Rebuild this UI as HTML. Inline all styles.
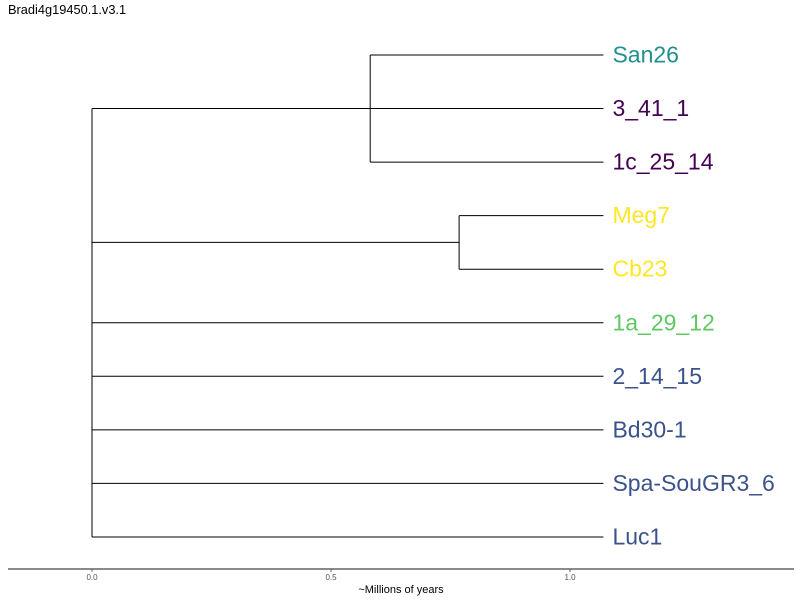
<!DOCTYPE html>
<html><head><meta charset="utf-8"><style>
html,body{margin:0;padding:0;background:#fff;}
svg{display:block;font-family:"Liberation Sans",sans-serif;}
</style></head><body>
<svg id="chart" width="800" height="600">
<text x="8" y="14" font-size="12.8" fill="#000">Bradi4g19450.1.v3.1</text>
<g id="tree"></g>
<line x1="8" y1="569" x2="794" y2="569" stroke="#444" stroke-width="1.2"/>
<g id="ticks"></g>
<text x="401" y="593" font-size="11" text-anchor="middle" fill="#000">~Millions of years</text>
</svg>
<script>
const leafNames = ["San26","3_41_1","1c_25_14","Meg7","Cb23","1a_29_12","2_14_15","Bd30-1","Spa-SouGR3_6","Luc1"];
const leafColors = ["#21908d","#440154","#440154","#fde725","#fde725","#5ec962","#3b528b","#3b528b","#3b528b","#3b528b"];
const tipDepth = 1.07;
const cladeMembers = [[0,1,2],[3,4]];
const cladeDepths = [0.582,0.768];
const tickValues = [0,0.5,1.0];
const tickLabels = ["0.0","0.5","1.0"];

const NS="http://www.w3.org/2000/svg";
const xs = v => 92 + v*478;
const ys = i => 55 + i*53.55;
const tree=document.getElementById('tree');
function ln(x1,y1,x2,y2,name){
  const l=document.createElementNS(NS,'line');
  l.setAttribute('x1',x1);l.setAttribute('y1',y1);l.setAttribute('x2',x2);l.setAttribute('y2',y2);
  l.setAttribute('stroke','#000');l.setAttribute('stroke-width','1');
  
  
  tree.appendChild(l);
}
const attachY=[];
const inClade={};
cladeMembers.forEach((m,c)=>m.forEach(i=>inClade[i]=c));
const done={};
leafNames.forEach((n,i)=>{
  if(inClade[i]!==undefined){
    const c=inClade[i];
    const m=cladeMembers[c];
    ln(xs(cladeDepths[c]),ys(i),xs(tipDepth),ys(i),'branch-'+n);
    if(!done[c]){
      done[c]=1;
      const y1=ys(m[0]),y2=ys(m[m.length-1]),ym=(y1+y2)/2;
      ln(xs(cladeDepths[c]),y1,xs(cladeDepths[c]),y2,'clade-node-'+c);
      ln(xs(0),ym,xs(cladeDepths[c]),ym,'clade-stem-'+c);
      attachY.push(ym);
    }
  } else {
    ln(xs(0),ys(i),xs(tipDepth),ys(i),'branch-'+n);
    attachY.push(ys(i));
  }
  const t=document.createElementNS(NS,'text');
  t.setAttribute('x',xs(tipDepth)+9);t.setAttribute('y',ys(i)+7.5);
  t.setAttribute('font-size','23');t.setAttribute('fill',leafColors[i]);
  t.textContent=n;
  
  
  tree.appendChild(t);
});
ln(xs(0),Math.min(...attachY),xs(0),Math.max(...attachY),'root-node');
const tg=document.getElementById('ticks');
tickValues.forEach((v,i)=>{
  const l=document.createElementNS(NS,'line');
  l.setAttribute('x1',xs(v));l.setAttribute('x2',xs(v));l.setAttribute('y1',569);l.setAttribute('y2',572);
  l.setAttribute('stroke','#666');
  
  
  tg.appendChild(l);
  const t=document.createElementNS(NS,'text');
  t.setAttribute('x',xs(v));t.setAttribute('y',580);t.setAttribute('font-size','8');
  t.setAttribute('text-anchor','middle');t.setAttribute('fill','#555');
  t.textContent=tickLabels[i];
  
  
  tg.appendChild(t);
});
</script>
</body></html>
